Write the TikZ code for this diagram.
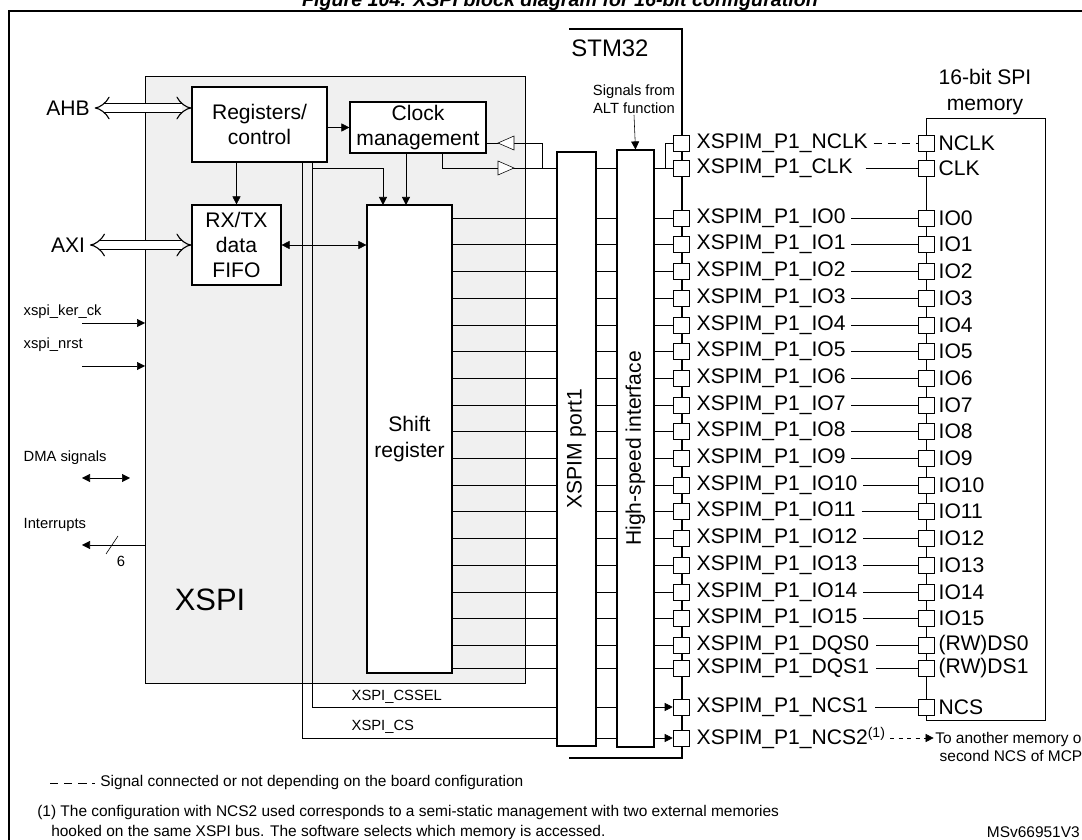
\documentclass[tikz,border=0pt]{standalone}
\usepackage{fontspec}
\setmainfont{Liberation Sans}
\usetikzlibrary{arrows.meta,positioning}
\begin{document}
\begin{tikzpicture}[x=0.25mm,y=-0.25mm,>={Triangle[length=2mm,width=2mm]},
  blk/.style={draw,thick,fill=white,align=center,inner sep=0pt,font=\fontsize{15}{18}\selectfont},
  pin/.style={draw,fill=white,minimum size=4mm,inner sep=0pt},
  sig/.style={font=\fontsize{15}{17}\selectfont,anchor=west,inner sep=1pt},
  small/.style={font=\fontsize{10.5}{12.5}\selectfont,inner sep=1pt},
  note/.style={font=\fontsize{11}{13}\selectfont,anchor=west,inner sep=0pt},
  bus/.style={double,double distance=5pt,thick,{Implies}-{Implies}}]
\useasboundingbox (0,0) rectangle (1082,840);
\node[font=\bfseries\itshape\fontsize{14}{16}\selectfont] (title) at (560,1) {Figure 104. XSPI block diagram for 16-bit configuration};
\draw[thick] (9,840) -- (9,11) -- (1082,11);
% XSPI block
\fill[black!6] (145,76) rectangle (525,683);
\draw (145,76) rectangle (525,683);
\node[font=\fontsize{22}{24}\selectfont] (xspi) at (210,600) {XSPI};
\node[blk,minimum width=33.75mm,minimum height=18.75mm] (regs) at (259.5,124.5) {Registers/\\control};
\node[blk,minimum width=34mm,minimum height=12.75mm] (clkm) at (418,127.5) {Clock\\management};
\node[blk,minimum width=22.25mm,minimum height=20mm] (fifo) at (236.5,245) {RX/TX\\data\\FIFO};
\node[blk,minimum width=21.25mm,minimum height=117mm] (shift) at (409.5,439) {Shift\\register};
\node[draw,thick,fill=white,minimum width=9.75mm,minimum height=148.5mm] (port) at (576.5,449) {};
\node[rotate=90,font=\fontsize{15}{17}\selectfont] at (port) {XSPIM port1};
\node[draw,thick,fill=white,minimum width=9.25mm,minimum height=149.25mm] (hsi) at (635.5,448.5) {};
\node[rotate=90,font=\fontsize{15}{17}\selectfont] at (hsi) {High-speed interface};
\node[small,align=center] (alt) at (634,99) {Signals from\\ALT function};
\draw[->] (alt.south) -- (hsi.north);
% STM32 edge
\node[font=\fontsize{17}{19}\selectfont] (stm) at (610,48) {STM32};
\draw[line width=1.6pt] (569,29) -- (682,29) -- (682,758) -- (569,758);
% buses and side signals
\node[font=\fontsize{15}{17}\selectfont] (ahb) at (68,108) {AHB};
\node[font=\fontsize{15}{17}\selectfont] (axi) at (68,245) {AXI};
\draw[bus] (ahb.east) -- (regs.west |- ahb);
\draw[bus] (axi.east) -- (fifo.west |- axi);
\node[small,anchor=west] (kerck) at (22,312) {xspi\_ker\_ck};
\node[small,anchor=west] (nrst) at (22,345) {xspi\_nrst};
\node[small,anchor=west] (dma) at (22,458) {DMA signals};
\node[small,anchor=west] (irq) at (22,525) {Interrupts};
\draw[->] (82,323) -- (145,323);
\draw[->] (82,366) -- (145,366);
\draw[<->] (82,478) -- (130,478);
\draw[->] (145,545) -- (82,545);
\draw (106,554) -- (118,536);
\node[small] at (121,561) {6};
% internal links
\draw[->] (regs.east |- clkm) -- (clkm.west);
\draw[->] (regs.south -| fifo) -- (fifo.north);
\draw[<->] (fifo.east) -- (shift.west |- fifo.east);
\draw[->] (406,153) -- (406,205);
\draw[->] (312,162) -- (312,168) -- (383,168) -- (383,205);
% pins
\node[pin] (pnclk) at (681,143) {};
\node[pin] (pclk) at (681,168) {};
\node[sig] (lnclk) at (695,143) {XSPIM\_P1\_NCLK};
\node[sig] (lclk) at (695,168) {XSPIM\_P1\_CLK};
\foreach \i in {0,...,15} {
  \node[pin] (p\i) at (681,{218+26.7*\i}) {};
  \node[sig] (l\i) at (695,{218+26.7*\i}) {XSPIM\_P1\_IO\i};
}
\node[pin] (p16) at (681,645) {};
\node[sig] (l16) at (695,645) {XSPIM\_P1\_DQS0};
\node[pin] (p17) at (681,668) {};
\node[sig] (l17) at (695,668) {XSPIM\_P1\_DQS1};
\node[pin] (pcs1) at (681,707) {};
\node[sig] (lcs1) at (695,707) {XSPIM\_P1\_NCS1};
\node[pin] (pcs2) at (681,738) {};
\node[sig] (lcs2) at (695,738) {XSPIM\_P1\_NCS2\textsuperscript{\fontsize{10}{10}\selectfont(1)}};
\foreach \i in {0,...,17} {
  \draw (shift.east |- p\i) -- (port.west |- p\i) (port.east |- p\i) -- (hsi.west |- p\i) (hsi.east |- p\i) -- (p\i.west);
}
% clock path
\draw (clkm.east |- 0,143) -- (542,143) -- (542,168);
\draw[fill=white] (498,143) -- (514,136) -- (514,150) -- cycle;
\draw (442,153) -- (442,168) -- (port.west |- pclk);
\draw[fill=white] (514,168) -- (498,161) -- (498,175) -- cycle;
\draw (port.east |- pclk) -- (hsi.west |- pclk) (hsi.east |- pclk) -- (pclk.west);
\draw (665,168) -- (665,143) -- (pnclk.west);
% chip selects
\node[small,anchor=west] (cssel) at (350,697) {XSPI\_CSSEL};
\node[small,anchor=west] (cs) at (350,727) {XSPI\_CS};
\draw (312,168) -- (312,707) -- (port.west |- pcs1) (port.east |- pcs1) -- (hsi.west |- pcs1);
\draw[->] (hsi.east |- pcs1) -- (pcs1.west);
\draw (302,162) -- (302,738) -- (port.west |- pcs2) (port.east |- pcs2) -- (hsi.west |- pcs2);
\draw[->] (hsi.east |- pcs2) -- (pcs2.west);
% memory
\draw (926,118) -- (1045,118) -- (1045,720) -- (926,720) -- (926,118);
\node[font=\fontsize{15}{18}\selectfont,align=center] (mem) at (985,92) {16-bit SPI\\memory};
\node[pin] (mnclk) at (926,143) {};
\node[pin] (mclk) at (926,168) {};
\node[sig] (nnclk) at (937,143) {NCLK};
\node[sig] (nclk) at (937,168) {CLK};
\draw[dashed,dash pattern=on 6pt off 4pt] ([xshift=3]lnclk.east) -- (mnclk.west);
\draw ([xshift=8]lclk.east) -- (mclk.west);
\foreach \i in {0,...,15} {
  \node[pin] (m\i) at (926,{218+26.7*\i}) {};
  \node[sig] (n\i) at (937,{218+26.7*\i}) {IO\i};
  \draw ([xshift=3]l\i.east) -- (m\i.west);
}
\node[pin] (m16) at (926,645) {};
\node[sig] (n16) at (937,645) {(RW)DS0};
\node[pin] (m17) at (926,668) {};
\node[sig] (n17) at (937,668) {(RW)DS1};
\node[pin] (mcs) at (926,707) {};
\node[sig] (ncs) at (937,707) {NCS};
\foreach \i in {16,17} { \draw ([xshift=4]l\i.east) -- (m\i.west); }
\draw ([xshift=4]lcs1.east) -- (mcs.west);
\node[font=\fontsize{11}{13}\selectfont,align=center,inner sep=1pt] (other) at (1011,747) {To another memory or\\second NCS of MCP};
\draw[dashed,->] ([xshift=2]lcs2.east) -- (other.west |- lcs2);
% notes
\draw[dashed,dash pattern=on 6pt off 4pt] (50,783) -- (95,783);
\node[note] (legend) at (100,783) {Signal connected or not depending on the board configuration};
\node[note] (fn1) at (37,812) {(1) The configuration with NCS2 used corresponds to a semi-static management with two external memories};
\node[note] (fn2) at (51,832) {hooked on the same XSPI bus. The software selects which memory is accessed.};
\node[note,anchor=east] (ref) at (1080,832) {MSv66951V3};
\end{tikzpicture}
\end{document}
